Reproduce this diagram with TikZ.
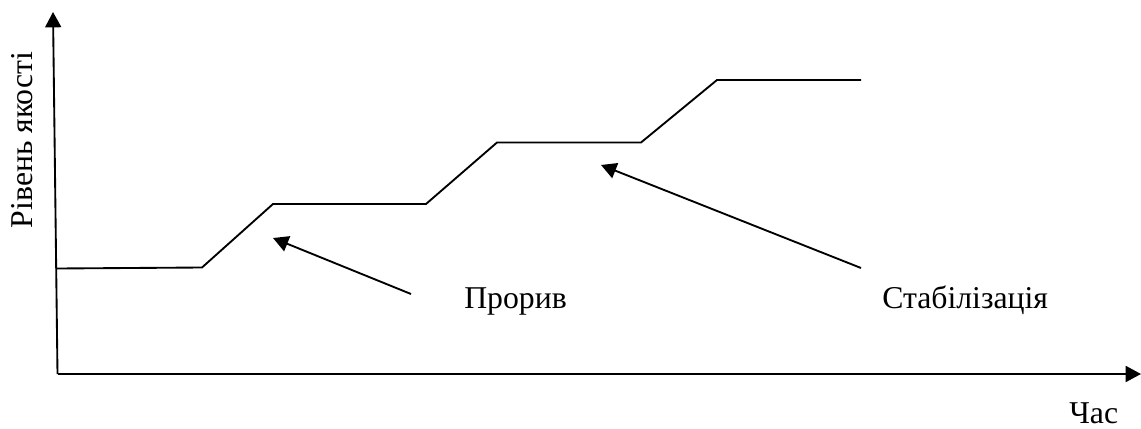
\documentclass[tikz,border=0pt]{standalone}
\usepackage{fontspec}
\setmainfont{Liberation Serif}
\usetikzlibrary{arrows.meta}
\tikzset{px/.style={x=0.75pt,y=-0.75pt},
line/.style={draw=black,line width=1.4pt},
arr/.style={-{Triangle[length=11.5pt,width=12pt]}},
lbl/.style={inner sep=0pt,font=\fontsize{23.8pt}{26pt}\selectfont}}
\begin{document}
\begin{tikzpicture}[px]
\useasboundingbox (0,0) rectangle (1141,428);
\coordinate (o) at (57.5,374);
\coordinate (ytop) at (53,12);
\coordinate (xend) at (1141,374);
\coordinate (p0) at (57,268.5);
\coordinate (a1s) at (411,294);
\coordinate (a1e) at (273,238);
\coordinate (a2s) at (861,268);
\coordinate (a2e) at (601,165);
\draw[line,arr] (o) -- (ytop);
\draw[line,arr] (o) -- (xend);
\draw[line] (p0) -- (202,267.5) -- (273,204) -- (426,204) -- (497,142.5) -- (641,142.5) -- (717,80) -- (861,80);
\draw[line,arr] (a1s) -- (a1e);
\draw[line,arr] (a2s) -- (a2e);
\node[lbl,anchor=base west] (t1) at (464,308) {Прорив};
\node[lbl,anchor=base west] (t2) at (882,308) {Стабілізація};
\node[lbl,anchor=base west] (t3) at (1069,423) {Час};
\node[lbl,rotate=90,anchor=base] (t4) at (32,140) {Рівень якості};
\end{tikzpicture}
\end{document}
